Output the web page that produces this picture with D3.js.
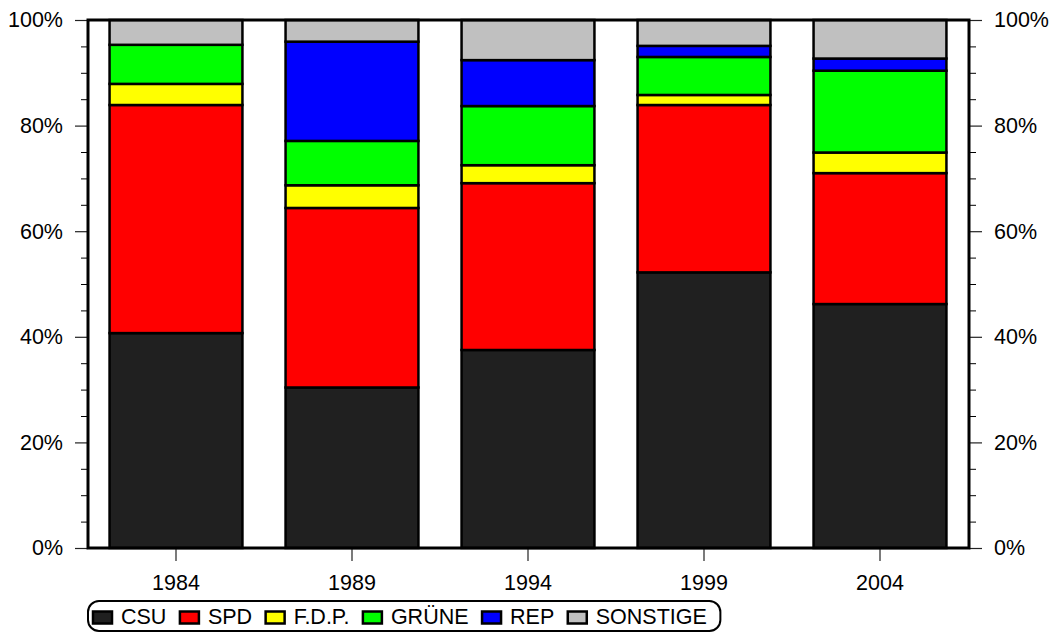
<!DOCTYPE html>
<html><head><meta charset="utf-8">
<script src="https://cdn.jsdelivr.net/npm/d3@7"></script>
<style>body{margin:0;background:#fff}svg{display:block;font-family:"Liberation Sans",Arial,sans-serif}</style>
</head><body><svg id="c" width="1056" height="633"></svg>
<script>
const years = ["1984","1989","1994","1999","2004"];
const parties = ["CSU","SPD","F.D.P.","GRÜNE","REP","SONSTIGE"];
const colors = ["#202020","#ff0000","#ffff00","#00ff00","#0000ff","#c0c0c0"];
const CSU      = [40.7, 30.4, 37.5, 52.2, 46.2];
const SPD      = [43.2, 34.0, 31.6, 31.7, 24.8];
const FDP      = [ 4.0,  4.3,  3.4,  1.9,  3.9];
const GRUENE   = [ 7.4,  8.4, 11.2,  7.2, 15.5];
const REP      = [ 0.0, 18.8,  8.7,  2.1,  2.3];
const SONSTIGE = [ 4.7,  4.1,  7.6,  4.9,  7.3];
const yTicks = [0,20,40,60,80,100];

const series = [CSU, SPD, FDP, GRUENE, REP, SONSTIGE];
const rows = years.map((y,i)=>{const o={year:y}; parties.forEach((p,j)=>o[p]=series[j][i]); return o;});
const stack = d3.stack().keys(parties)(rows);

const svg = d3.select("#c");
const L=88, R=968, T=20, B=548;
const FS = 21.5;
const x = d3.scaleBand().domain(years).range([L,R]).paddingInner(0.245).paddingOuter(0.1225);
const y = d3.scaleLinear().domain([0,100]).range([B,T]);

svg.append("g").selectAll("g").data(stack).join("g")
  .attr("fill",(d,i)=>colors[i])
  .selectAll("rect").data(d=>d).join("rect")
  .attr("x",d=>x(d.data.year)).attr("width",x.bandwidth())
  .attr("y",d=>y(d[1])).attr("height",d=>Math.max(0,y(d[0])-y(d[1])))
  .attr("stroke","#000").attr("stroke-width",2.5)
  .attr("display",d=>(d[1]-d[0])>0?null:"none");

const minor = d3.range(0,101,5).filter(v=>v%20!==0);
const fmt = d=>d+"%";
const gl = svg.append("g").attr("transform",`translate(${L},0)`)
  .call(d3.axisLeft(y).tickValues(yTicks).tickFormat(fmt).tickSize(13).tickPadding(12));
svg.append("g").attr("transform",`translate(${L},0)`)
  .call(d3.axisLeft(y).tickValues(minor).tickFormat("").tickSize(7)).select(".domain").remove();
const gr = svg.append("g").attr("transform",`translate(${R+1},0)`)
  .call(d3.axisRight(y).tickValues(yTicks).tickFormat(fmt).tickSize(13).tickPadding(12));
svg.append("g").attr("transform",`translate(${R+1},0)`)
  .call(d3.axisRight(y).tickValues(minor).tickFormat("").tickSize(7)).select(".domain").remove();
const gb = svg.append("g").attr("transform",`translate(0,${B})`)
  .call(d3.axisBottom(x).tickSize(13).tickPadding(10));
[gl,gr,gb].forEach(g=>{
  g.select(".domain").remove();
  g.selectAll("text").attr("font-size",FS).attr("fill","#000").attr("font-family","Liberation Sans, Arial, sans-serif");
  g.selectAll("line").attr("stroke","#222").attr("stroke-width",1.2);
});
gb.selectAll("text").attr("dy","0.9em");
svg.append("rect").attr("x",L).attr("y",T).attr("width",R-L+1).attr("height",B-T)
  .attr("fill","none").attr("stroke","#000").attr("stroke-width",3);

const lg = svg.append("g");
const box = lg.append("rect").attr("x",88).attr("y",601).attr("width",627).attr("height",30)
  .attr("rx",11).attr("fill","#fff").attr("stroke","#000").attr("stroke-width",2);
let cx = 93;
parties.forEach((p,i)=>{
  lg.append("rect").attr("x",cx).attr("y",611.5).attr("width",19).attr("height",12)
    .attr("fill",colors[i]).attr("stroke","#000").attr("stroke-width",2.5);
  const t = lg.append("text").attr("x",cx+28).attr("y",624).attr("font-size",FS).text(p);
  cx = cx + 28 + t.node().getComputedTextLength() + 13.5;
});
box.attr("width", cx - 88);
</script></body></html>
